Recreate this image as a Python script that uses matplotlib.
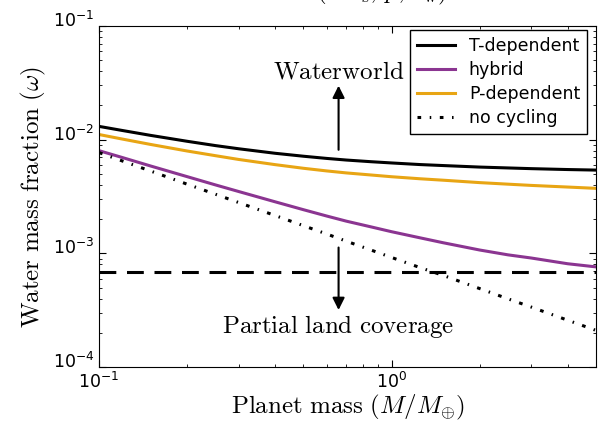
import matplotlib
matplotlib.use("Agg")
import matplotlib.pyplot as plt
import matplotlib.transforms as mtransforms

# planet mass (Earth masses) and water mass fraction for each cycling model
mass = [0.1, 0.12, 0.15, 0.2, 0.25, 0.3, 0.4, 0.5, 0.6, 0.7, 0.85,
        1.0, 1.25, 1.5, 2.0, 2.5, 3.0, 4.0, 5.0]
omega_t = [0.01309, 0.01205, 0.01091, 0.00968, 0.00887, 0.00832, 0.00759, 0.00715, 0.00684, 0.00662,
           0.0064, 0.00624, 0.00604, 0.00592, 0.00574, 0.00564, 0.00556, 0.00546, 0.0054]
omega_hybrid = [0.0080, 0.00697, 0.00587, 0.00473, 0.0040, 0.0035, 0.00284, 0.00242, 0.00213, 0.00192,
                0.00171, 0.00155, 0.00137, 0.00124, 0.00107, 0.00097, 0.00091, 0.00081, 0.00076]
omega_p = [0.0111, 0.01013, 0.00908, 0.00795, 0.00723, 0.0067, 0.00603, 0.0056, 0.00531, 0.0051,
           0.00489, 0.00472, 0.00453, 0.0044, 0.00419, 0.00406, 0.00396, 0.00383, 0.00373]
omega_none = [0.0077, 0.0065, 0.0053, 0.00406, 0.00331, 0.0028, 0.00215, 0.00175, 0.00148, 0.00128,
              0.00107, 0.00092, 0.00075, 0.00064, 0.00049, 0.000398, 0.000337, 0.000258, 0.00021]
land_mass = [0.1, 5.0]
land_omega = [6.8e-4, 6.8e-4]

plt.rcParams["mathtext.fontset"] = "dejavusans"
plt.rcParams["xtick.direction"] = "in"
plt.rcParams["ytick.direction"] = "in"

fig = plt.figure(figsize=(5.98, 4.22), dpi=100)
ax = fig.add_axes([0.1656, 0.1303, 0.8311, 0.8081])

ax.plot(mass, omega_t, color="black", lw=2.2, label="T-dependent")
ax.plot(mass, omega_hybrid, color="#8b3591", lw=2.2, label="hybrid")
ax.plot(mass, omega_p, color="#e8a514", lw=2.2, label="P-dependent")
ax.plot(mass, omega_none, color="black", lw=2.2, dashes=(1.2, 2.8, 0.5, 2.8), label="no cycling")
ax.plot(land_mass, land_omega, color="black", lw=2.2, dashes=(5.5, 3.5))

ax.set_xscale("log")
ax.set_yscale("log")
ax.set_xlim(0.1, 5)
ax.set_ylim(1e-4, 1e-1)
ax.tick_params(which="both", top=True, right=True, labelsize=12.5)
ax.tick_params(which="major", length=5, width=0.8)
ax.tick_params(which="minor", length=2.5, width=0.6)
ax.set_xticks([0.1, 1])
ax.set_xticklabels([r"$10^{-1}$", r"$10^{0}$"])
ax.set_yticks([1e-4, 1e-3, 1e-2, 1e-1])
ax.set_yticklabels([r"$10^{-4}$", r"$10^{-3}$", r"$10^{-2}$", r"$10^{-1}$"])
shift = mtransforms.ScaledTranslation(0, 7 / 100, fig.dpi_scale_trans)
for lab in ax.get_yticklabels():
    lab.set_transform(lab.get_transform() + shift)

ax.set_xlabel(r"$\mathrm{Planet\ mass}\ (M/M_{\oplus})$", fontsize=18, math_fontfamily="cm", labelpad=1)
ax.set_ylabel(r"$\mathrm{Water\ mass\ fraction}\ (\omega)$", fontsize=18, math_fontfamily="cm", labelpad=3)

ax.annotate("", xy=(0.659, 0.0316), xytext=(0.659, 0.0077),
            arrowprops=dict(arrowstyle="-|>", color="black", lw=1.5, mutation_scale=18))
ax.text(0.659, 0.0396, r"$\mathrm{Waterworld}$", fontsize=18, math_fontfamily="cm",
        ha="center", va="center")
ax.annotate("", xy=(0.659, 3.0e-4), xytext=(0.659, 1.19e-3),
            arrowprops=dict(arrowstyle="-|>", color="black", lw=1.5, mutation_scale=18))
ax.text(0.659, 2.25e-4, r"$\mathrm{Partial\ land\ coverage}$", fontsize=18, math_fontfamily="cm",
        ha="center", va="center")

# title sits mostly above the crop, only its lowest strokes show
fig.text(316 / 598, 1.004, r"$(\Delta T_{\rm s},\,p,\,\tau_{\rm w})$", fontsize=18,
         math_fontfamily="cm", ha="left", va="baseline")

leg = ax.legend(loc="upper right", fontsize=12.5, handlelength=2.2, fancybox=False,
                framealpha=1, edgecolor="black", borderaxespad=0, labelspacing=0.35)
leg.set_bbox_to_anchor((587 / 598, 1 - 30 / 422), transform=fig.transFigure)
leg.get_frame().set_linewidth(1.0)

fig.savefig("out.png", dpi=100)
